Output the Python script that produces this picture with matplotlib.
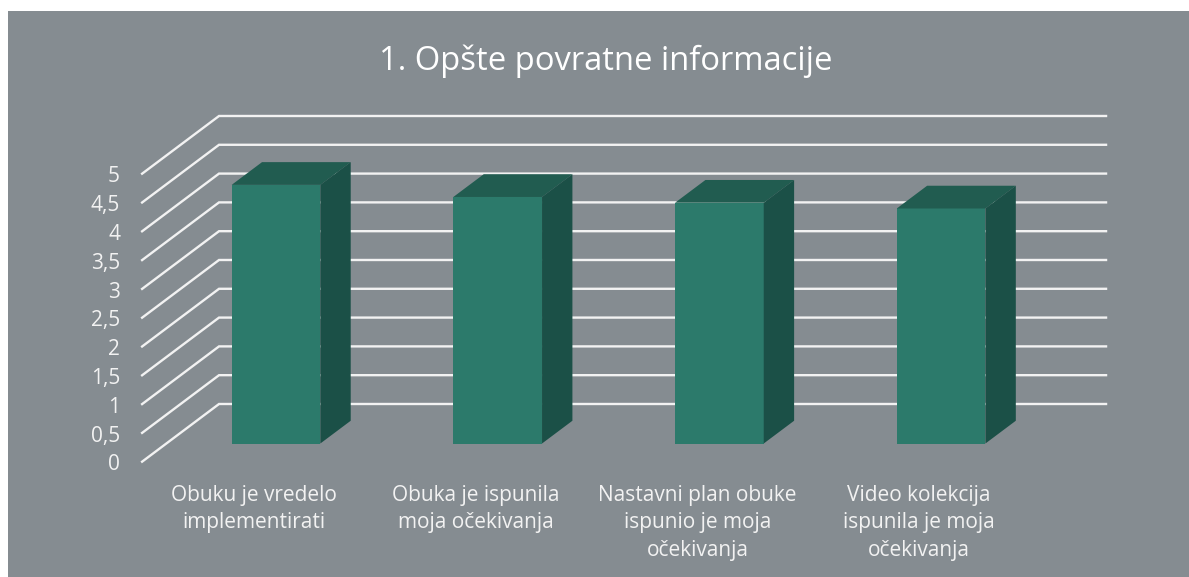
import matplotlib
matplotlib.use('Agg')
import matplotlib.pyplot as plt
from matplotlib.patches import Rectangle

categories = ['Obuku je vredelo\nimplementirati',
              'Obuka je ispunila\nmoja očekivanja',
              'Nastavni plan obuke\nispunio je moja\nočekivanja',
              'Video kolekcija\nispunila je moja\nočekivanja']
values = [4.49, 4.28, 4.18, 4.08]
ticks = [0, 0.5, 1, 1.5, 2, 2.5, 3, 3.5, 4, 4.5, 5]
tick_labels = ['0', '0,5', '1', '1,5', '2', '2,5', '3', '3,5', '4', '4,5', '5']
title = '1. Opšte povratne informacije'

W, H = 1189, 577
x0_px, x_step = 276, 221.7   # first bar centre, bar spacing
y0_px, y_step = 443.5, 57.6  # baseline of bars, pixels per unit

plt.rcParams['font.family'] = ['Open Sans', 'DejaVu Sans']

fig = plt.figure(figsize=(W / 100, H / 100), dpi=100, facecolor='white')
ax = fig.add_axes([0, 0, 1, 1])
ax.set_xlim(-x0_px / x_step, (W - x0_px) / x_step)
ax.set_ylim(-(H - y0_px) / y_step, y0_px / y_step)
ax.axis('off')

# grey panel
ax.add_patch(Rectangle((8 / W, 0), 1 - 8 / W, 1 - 11 / H, transform=ax.transAxes,
                       facecolor='#858c91', edgecolor='none', zorder=0))

# walls of the 3d box: front edge, back corner, right end
front_dx, front_dy = -0.604, -0.316
back_dx, back_dy = -0.257, 0.686
right_x = 3.744
for t, lab in zip(ticks, tick_labels):
    ax.plot([front_dx, back_dx, right_x], [t + front_dy, t + back_dy, t + back_dy],
            color='#f2f2f2', lw=1.7, solid_joinstyle='miter', zorder=1)
    ax.text(front_dx - 22 / x_step, t + front_dy - 0.055, lab, color='#f2f2f2',
            fontsize=15, ha='right', va='center', zorder=5)

# bars
bar_w = 0.4
depth_x, depth_y = 0.137, 0.395
xs = list(range(len(values)))
ax.bar(xs, values, width=bar_w, color='#2c7a6b', zorder=3)
for x, v in zip(xs, values):
    r = x + bar_w / 2
    l = x - bar_w / 2
    ax.fill([l, r, r + depth_x, l + depth_x], [v, v, v + depth_y, v + depth_y],
            color='#215c50', lw=0, zorder=3)
    ax.fill([r, r + depth_x, r + depth_x, r], [0, depth_y, v + depth_y, v],
            color='#1b5047', lw=0, zorder=3)

# category labels
for x, c in zip(xs, categories):
    ax.text(x - 22 / x_step, -0.715, c, color='#f2f2f2', fontsize=15, ha='center',
            va='top', linespacing=1.42, zorder=5)

ax.text(606 / W, 1 - 61 / H, title, transform=ax.transAxes, color='white',
        fontsize=23.6, ha='center', va='center', zorder=5)

fig.savefig('out.png', dpi=100, facecolor='white')
